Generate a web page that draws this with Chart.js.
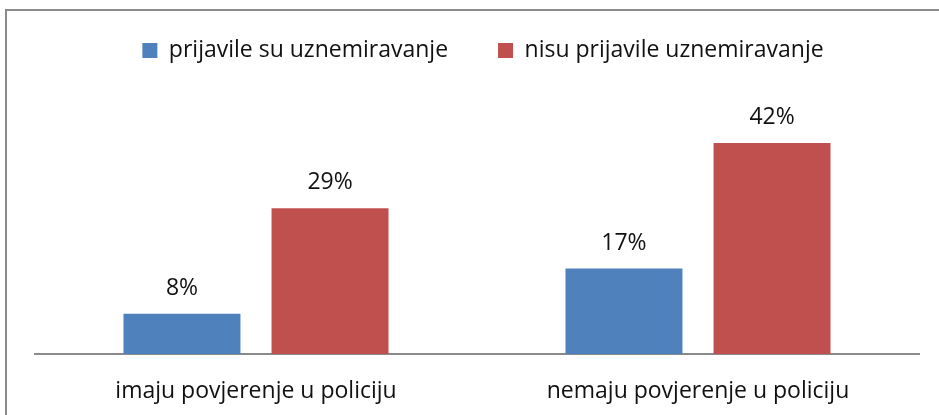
<!DOCTYPE html>
<html>
<head>
<meta charset="utf-8">
<script src="https://cdn.jsdelivr.net/npm/chart.js@4"></script>
<style>
  html, body { margin: 0; padding: 0; background: #fff; overflow: hidden; }
  #frame { position: absolute; left: 5px; top: 9px; width: 1000px; height: 500px;
           border-left: 2px solid #8a8a8a; border-top: 2px solid #8a8a8a; }
  #wrap { position: absolute; left: 0; top: 0; width: 939px; height: 415px; }
</style>
</head>
<body>
<div id="frame"></div>
<div id="wrap"><canvas id="chart" width="939" height="415"></canvas></div>
<script>
// data
const categories = ['imaju povjerenje u policiju', 'nemaju povjerenje u policiju'];
const seriesNames = ['prijavile su uznemiravanje', 'nisu prijavile uznemiravanje'];
const reported = [8, 17];
const notReported = [29, 42];

const FONT = "'Open Sans', sans-serif";

// percent labels above bars
const valueLabels = {
    id: 'valueLabels',
    afterDatasetsDraw(chart) {
        let ctx = chart.ctx;
        ctx.save();
        ctx.fillStyle = '#111';
        ctx.font = '23px ' + FONT;
        ctx.textAlign = 'center';
        ctx.textBaseline = 'alphabetic';
        chart.data.datasets.forEach((ds, i) => {
            chart.getDatasetMeta(i).data.forEach((bar, j) => {
                ctx.fillText(ds.data[j] + '%', bar.x, bar.y - 19);
            });
        });
        ctx.restore();
    }
};

// legend block height fixed so the plot starts where the original does
const legendHeight = {
    id: 'legendHeight',
    beforeInit(chart) {
        const fit = chart.legend.fit;
        chart.legend.fit = function () {
            fit.bind(chart.legend)();
            this.height = 139;
        };
    },
    afterLayout(chart) {
        // nudge legend a bit to the right
        chart.legend.left += 6;
        chart.legend.right += 6;
    }
};

new Chart(document.getElementById('chart').getContext('2d'), {
    type: 'bar',
    data: {
        labels: categories,
        datasets: [
            { label: seriesNames[0], data: reported, backgroundColor: '#4F81BD' },
            { label: seriesNames[1], data: notReported, backgroundColor: '#C0504D' }
        ]
    },
    options: {
        responsive: false,
        animation: false,
        layout: { padding: { top: -11, left: 35, right: 20, bottom: 0 } },
        datasets: { bar: { categoryPercentage: 0.67, barPercentage: 0.79 } },
        plugins: {
            legend: {
                position: 'top',
                labels: {
                    boxWidth: 15, boxHeight: 15, padding: 50,
                    color: '#111',
                    font: { family: FONT, size: 23 }
                }
            },
            tooltip: { enabled: false }
        },
        scales: {
            x: {
                grid: { display: false, drawTicks: false },
                border: { display: true, color: '#8a8a8a', width: 2 },
                ticks: { color: '#111', padding: 24, font: { family: FONT, size: 23 } },
                afterFit(scale) { scale.height = 61; }
            },
            y: {
                display: false,
                min: 0, max: 45
            }
        }
    },
    plugins: [valueLabels, legendHeight]
});
</script>
</body>
</html>
